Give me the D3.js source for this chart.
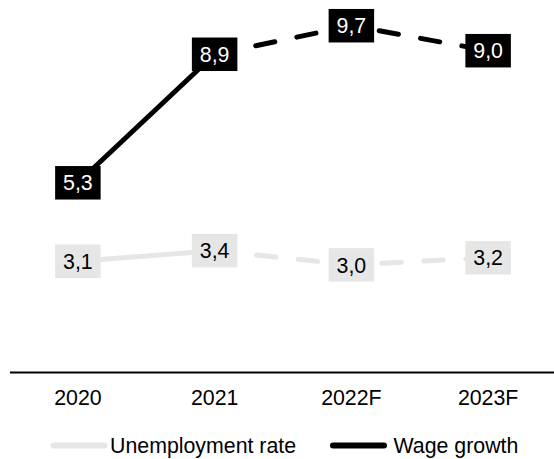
<!DOCTYPE html>
<html>
<head>
<meta charset="utf-8">
<script src="https://cdn.jsdelivr.net/npm/d3@7"></script>
<style>
  html, body { margin: 0; padding: 0; background: #fff; }
  svg { display: block; font-family: "Liberation Sans", Arial, sans-serif; }
</style>
</head>
<body>
<div id="chart"></div>
<script>
// ---- data ----
const categories = ["2020", "2021", "2022F", "2023F"];
const unemploymentRate = [3.1, 3.4, 3.0, 3.2];
const wageGrowth = [5.3, 8.9, 9.7, 9.0];
const seriesNames = ["Unemployment rate", "Wage growth"];
const forecastFrom = 1; // index where the dashed (forecast) part begins

// ---- layout ----
const W = 554, H = 459;
const lightGray = "#e7e6e6";
const fontSize = 21.33;

const svg = d3.select("#chart").append("svg")
  .attr("width", W).attr("height", H);

const x = d3.scaleBand().domain(categories).range([9.5, 556.5]).padding(0);
const y = d3.scaleLinear().domain([0, 10]).range([372, 15]);
const cx = c => x(c) + x.bandwidth() / 2;

const fmt = v => d3.format(".1f")(v).replace(".", ",");

// axis
const axis = svg.append("g")
  .attr("transform", `translate(0,${y(0)})`)
  .call(d3.axisBottom(x).tickSizeInner(0).tickSizeOuter(0).tickPadding(18));
axis.select(".domain").attr("stroke", "#000").attr("stroke-width", 2);
axis.selectAll("text")
  .attr("font-family", "Liberation Sans, Arial, sans-serif")
  .attr("font-size", fontSize)
  .attr("fill", "#000");

const series = [
  { name: seriesNames[0], values: unemploymentRate, color: lightGray, text: "#000" },
  { name: seriesNames[1], values: wageGrowth, color: "#000", text: "#fff" }
];

const line = d3.line().x(d => cx(d.c)).y(d => y(d.v));

// lines
series.forEach(s => {
  const pts = s.values.map((v, i) => ({ c: categories[i], v }));
  svg.append("path")
    .attr("d", line(pts.slice(0, forecastFrom + 1)))
    .attr("fill", "none")
    .attr("stroke", s.color)
    .attr("stroke-width", 5)
    .attr("stroke-linecap", "round")
    .attr("stroke-linejoin", "round");
  svg.append("path")
    .attr("d", line(pts.slice(forecastFrom)))
    .attr("fill", "none")
    .attr("stroke", s.color)
    .attr("stroke-width", 5)
    .attr("stroke-linecap", "round")
    .attr("stroke-dasharray", "19.5,22.5");
});

// labels in boxes
const bw = 45.5, bh = 33.5;
series.forEach(s => {
  const g = svg.append("g");
  s.values.forEach((v, i) => {
    const px = cx(categories[i]), py = y(v);
    g.append("rect")
      .attr("x", px - bw / 2).attr("y", py - bh / 2)
      .attr("width", bw).attr("height", bh)
      .attr("fill", s.color);
    g.append("text")
      .attr("x", px).attr("y", py)
      .attr("dy", "0.36em")
      .attr("text-anchor", "middle")
      .attr("font-size", fontSize)
      .attr("fill", s.text)
      .text(fmt(v));
  });
});

// legend
const legendItems = [
  { name: series[0].name, color: series[0].color, x0: 53.5, x1: 104.5, tx: 110 },
  { name: series[1].name, color: series[1].color, x0: 333, x1: 384, tx: 393.5 }
];
const ly = 445.5;
legendItems.forEach(it => {
  svg.append("line")
    .attr("x1", it.x0).attr("x2", it.x1)
    .attr("y1", ly).attr("y2", ly)
    .attr("stroke", it.color)
    .attr("stroke-width", 6)
    .attr("stroke-linecap", "round");
  svg.append("text")
    .attr("x", it.tx).attr("y", 452.7)
    .attr("font-size", fontSize)
    .attr("fill", "#000")
    .text(it.name);
});
</script>
</body>
</html>
